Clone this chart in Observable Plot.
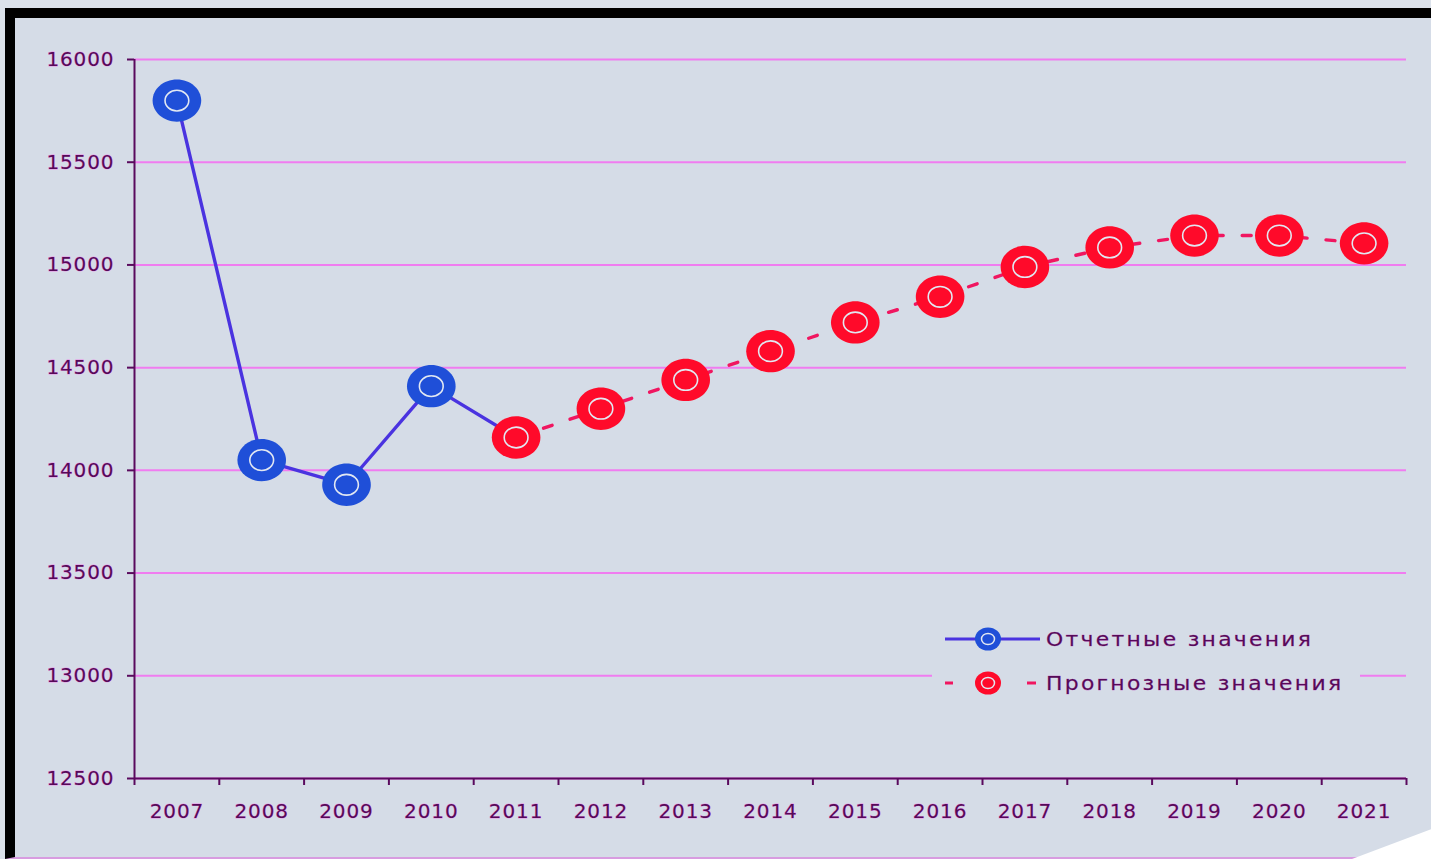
<!DOCTYPE html>
<html>
<head>
<meta charset="utf-8">
<script src="https://cdn.jsdelivr.net/npm/d3@7"></script>
<script src="https://cdn.jsdelivr.net/npm/@observablehq/plot@0.6"></script>
<style>
  html, body { margin: 0; padding: 0; width: 1431px; height: 859px; overflow: hidden; background: #dbe1ea; }
  #frame { position: absolute; left: 5px; top: 8px; width: 1426px; height: 839px;
           border-left: 10px solid #000; border-top: 10px solid #000; border-bottom: 2px solid #d89ce0;
           background: #d5dce7; box-sizing: content-box; }
  #chart { position: absolute; left: 15px; top: 18px; }
  #chart svg text { paint-order: stroke; stroke: #e890e8; stroke-width: 0.8px; letter-spacing: 0.9px; }
  #legend { position: absolute; left: 932px; top: 618px; width: 428px; height: 86px; background: #d5dce7;
            font-family: "DejaVu Sans", sans-serif; font-size: 19px; letter-spacing: 2px; color: #560a58; }
  .row { position: absolute; left: 0; height: 30px; display: flex; align-items: center; white-space: nowrap; }
  .row svg { display: block; }
  .row span { display: inline-block; margin-left: 5px; transform: scaleX(1.15); transform-origin: left center;
              paint-order: stroke; -webkit-text-stroke: 0.35px #c050c0; }
  #curl { position: absolute; left: 1352px; top: 826px; width: 79px; height: 33px; background: #fff;
          clip-path: polygon(100% 10%, 100% 100%, 0% 100%); }
</style>
</head>
<body>
<div id="frame"></div>
<div id="chart"></div>
<div id="legend"></div>
<div id="curl"></div>
<script>
// ---- data ----
const years = [2007, 2008, 2009, 2010, 2011, 2012, 2013, 2014, 2015, 2016, 2017, 2018, 2019, 2020, 2021];
const reportedYears = [2007, 2008, 2009, 2010];
const reportedValues = [15800, 14050, 13930, 14410];
const forecastYears = [2011, 2012, 2013, 2014, 2015, 2016, 2017, 2018, 2019, 2020, 2021];
const forecastValues = [14160, 14300, 14440, 14580, 14720, 14845, 14990, 15085, 15143, 15143, 15105];
const yTicks = [12500, 13000, 13500, 14000, 14500, 15000, 15500, 16000];
const seriesNames = ["Отчетные значения", "Прогнозные значения"];

// ---- styles ----
const axisColor = "#5a0a5e";
const textColor = "#560a58";
const gridColor = "#f07cf0";
const blueDot = "#1f4fd8";
const blueLine = "#4a33e0";
const redDot = "#ff0a2a";
const redLine = "#f01660";
const ringColor = "#e2e8f2";

// slightly wide ellipse symbol
const ellipse = {
  draw(ctx, size) {
    const r = Math.sqrt(size / Math.PI);
    const rx = r * 1.08, ry = r * 0.94, k = 0.5523;
    ctx.moveTo(rx, 0);
    ctx.bezierCurveTo(rx, ry * k, rx * k, ry, 0, ry);
    ctx.bezierCurveTo(-rx * k, ry, -rx, ry * k, -rx, 0);
    ctx.bezierCurveTo(-rx, -ry * k, -rx * k, -ry, 0, -ry);
    ctx.bezierCurveTo(rx * k, -ry, rx, -ry * k, rx, 0);
    ctx.closePath();
  }
};

const reported = reportedYears.map((year, i) => ({year, value: reportedValues[i]}));
const forecast = forecastYears.map((year, i) => ({year, value: forecastValues[i]}));
const reportedLine = reported.concat([forecast[0]]);
const boundaries = [years[0] - 0.5].concat(years.map(y => y + 0.5));

const chart = Plot.plot({
  width: 1416,
  height: 837,
  marginLeft: 119,
  marginRight: 25,
  marginTop: 41,
  marginBottom: 77,
  style: {background: "transparent", fontFamily: "DejaVu Sans, sans-serif", fontSize: "20px", color: textColor, overflow: "visible"},
  x: {domain: [years[0] - 0.5, years[years.length - 1] + 0.5], axis: null},
  y: {domain: [yTicks[0], yTicks[yTicks.length - 1]], axis: null},
  marks: [
    Plot.gridY(yTicks, {stroke: gridColor, strokeOpacity: 1, strokeWidth: 2}),
    Plot.ruleX([boundaries[0]], {stroke: axisColor, strokeWidth: 2}),
    Plot.ruleY([yTicks[0]], {stroke: axisColor, strokeWidth: 2}),
    Plot.axisY(yTicks, {tickSize: 7, tickPadding: 13, stroke: axisColor, strokeWidth: 2, tickFormat: d => String(d), label: null, fontSize: 20}),
    Plot.axisX(boundaries, {tickSize: 7, stroke: axisColor, strokeWidth: 2, tickFormat: () => "", label: null}),
    Plot.axisX(years, {tickSize: 0, tickPadding: 25, tickFormat: d => String(d), label: null, fontSize: 20}),
    Plot.line(reportedLine, {x: "year", y: "value", stroke: blueLine, strokeWidth: 3.4}),
    Plot.line(forecast, {x: "year", y: "value", stroke: redLine, strokeWidth: 3.4, strokeDasharray: "9,19", strokeDashoffset: -1}),
    Plot.dot(reported, {x: "year", y: "value", r: 22.5, symbol: ellipse, fill: blueDot, stroke: null}),
    Plot.dot(reported, {x: "year", y: "value", r: 11, symbol: ellipse, fill: "none", stroke: ringColor, strokeWidth: 1.6}),
    Plot.dot(forecast, {x: "year", y: "value", r: 22.5, symbol: ellipse, fill: redDot, stroke: null}),
    Plot.dot(forecast, {x: "year", y: "value", r: 11, symbol: ellipse, fill: "none", stroke: ringColor, strokeWidth: 1.6})
  ]
});
document.getElementById("chart").appendChild(chart);

// ---- legend ----
function swatch(fillC, lineC, dashed) {
  const w = 97, h = 30, cx = 56, cy = 15;
  let line;
  if (dashed) {
    line = `<line x1="13" x2="21" y1="${cy}" y2="${cy}" stroke="${lineC}" stroke-width="3"/>` +
           `<line x1="95" x2="104" y1="${cy}" y2="${cy}" stroke="${lineC}" stroke-width="3"/>`;
  } else {
    line = `<line x1="13" x2="108" y1="${cy}" y2="${cy}" stroke="${lineC}" stroke-width="3"/>`;
  }
  return `<svg width="${w + 12}" height="${h}">${line}` +
    `<ellipse cx="${cx}" cy="${cy}" rx="13" ry="11.5" fill="${fillC}"/>` +
    `<ellipse cx="${cx}" cy="${cy}" rx="6.5" ry="5.6" fill="none" stroke="${ringColor}" stroke-width="1.5"/></svg>`;
}
const legend = document.getElementById("legend");
const rows = [
  {name: seriesNames[0], html: swatch(blueDot, blueLine, false), top: 6},
  {name: seriesNames[1], html: swatch(redDot, redLine, true), top: 50}
];
rows.forEach(r => {
  const div = document.createElement("div");
  div.className = "row";
  div.style.top = r.top + "px";
  div.innerHTML = r.html;
  const s = document.createElement("span");
  s.textContent = r.name;
  div.appendChild(s);
  legend.appendChild(div);
});
</script>
</body>
</html>
